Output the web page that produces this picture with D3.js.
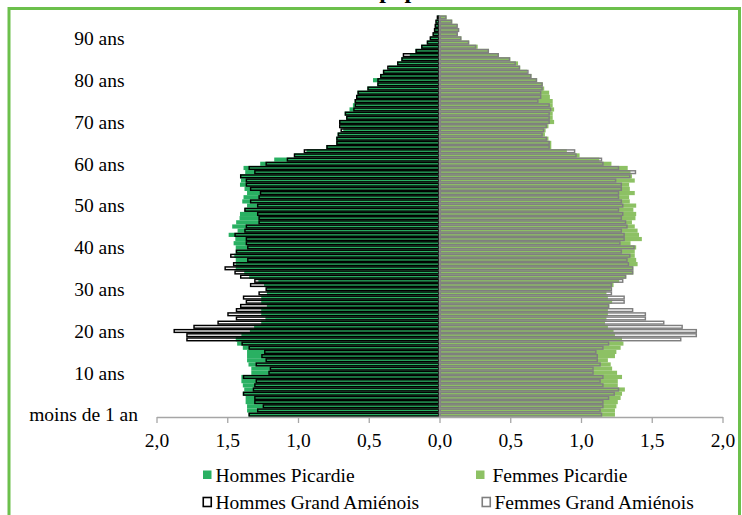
<!DOCTYPE html>
<html><head><meta charset="utf-8">
<script src="https://cdn.jsdelivr.net/npm/d3@7"></script>
<style>body{margin:0;background:#fff}svg{display:block}</style>
</head><body><svg id="c" width="742" height="515"></svg>
<script>
// ages 0..95 (one bar per year of age)
const ages = d3.range(0, 96);
const hommesPicardie = [1.35,1.36,1.36,1.37,1.37,1.39,1.38,1.39,1.40,1.40,
  1.33,1.33,1.35,1.36,1.36,1.36,1.39,1.43,1.44,1.40,
  1.34,1.31,1.26,1.23,1.26,1.26,1.22,1.26,1.26,1.22,
  1.22,1.24,1.28,1.345,1.38,1.44,1.44,1.44,1.45,1.44,
  1.44,1.455,1.443,1.49,1.427,1.465,1.437,1.413,1.41,1.378,
  1.36,1.394,1.385,1.36,1.378,1.41,1.403,1.41,1.373,1.385,
  1.267,1.168,1.027,0.94,0.80,0.73,0.73,0.72,0.68,0.70,
  0.71,0.66,0.67,0.636,0.612,0.60,0.59,0.58,0.51,0.44,
  0.47,0.42,0.40,0.36,0.30,0.27,0.21,0.17,0.13,0.09,
  0.065,0.045,0.035,0.03,0.025,0.015];
const femmesPicardie = [1.24,1.24,1.25,1.26,1.28,1.29,1.31,1.26,1.26,1.29,
  1.255,1.22,1.21,1.19,1.24,1.25,1.28,1.30,1.29,1.24,
  1.23,1.19,1.17,1.18,1.19,1.19,1.20,1.22,1.19,1.18,
  1.21,1.23,1.27,1.32,1.37,1.37,1.40,1.39,1.38,1.38,
  1.39,1.35,1.43,1.41,1.40,1.38,1.36,1.385,1.39,1.37,
  1.39,1.345,1.34,1.38,1.345,1.34,1.38,1.36,1.35,1.33,
  1.215,1.13,0.99,0.90,0.79,0.79,0.77,0.745,0.75,0.77,
  0.81,0.80,0.80,0.81,0.80,0.80,0.78,0.775,0.74,0.73,
  0.69,0.65,0.62,0.57,0.555,0.50,0.42,0.35,0.27,0.21,
  0.155,0.13,0.135,0.125,0.09,0.05];
const hommesGrandAmienois = [1.35,1.29,1.25,1.31,1.31,1.39,1.32,1.31,1.30,1.39,
  1.21,1.20,1.30,1.23,1.26,1.24,1.35,1.40,1.79,1.79,
  1.88,1.74,1.57,1.44,1.50,1.44,1.41,1.37,1.39,1.28,
  1.23,1.34,1.31,1.41,1.45,1.52,1.46,1.36,1.48,1.44,
  1.36,1.37,1.37,1.45,1.38,1.37,1.28,1.28,1.29,1.38,
  1.29,1.34,1.28,1.27,1.34,1.37,1.37,1.41,1.31,1.35,
  1.23,1.08,1.03,0.96,0.80,0.73,0.73,0.72,0.70,0.71,
  0.71,0.66,0.67,0.61,0.60,0.60,0.59,0.58,0.51,0.44,
  0.44,0.42,0.40,0.37,0.30,0.27,0.26,0.17,0.13,0.09,
  0.07,0.05,0.04,0.035,0.03,0.02];
const femmesGrandAmienois = [1.15,1.14,1.16,1.16,1.20,1.24,1.27,1.16,1.14,1.16,
  1.09,1.09,1.14,1.12,1.12,1.11,1.16,1.20,1.71,1.82,
  1.82,1.72,1.59,1.46,1.46,1.37,1.20,1.31,1.31,1.22,
  1.22,1.22,1.30,1.32,1.37,1.37,1.34,1.33,1.35,1.29,
  1.38,1.28,1.31,1.31,1.29,1.33,1.32,1.29,1.30,1.27,
  1.30,1.29,1.27,1.27,1.29,1.29,1.25,1.35,1.39,1.27,
  1.16,1.15,0.97,0.96,0.78,0.78,0.76,0.73,0.74,0.76,
  0.78,0.78,0.78,0.79,0.78,0.70,0.72,0.72,0.73,0.73,
  0.69,0.65,0.63,0.57,0.54,0.50,0.42,0.35,0.26,0.21,
  0.155,0.13,0.14,0.13,0.09,0.05];
const ageLabelAges = [0,10,20,30,40,50,60,70,80,90];
const ageLabels = ["moins de 1 an","10 ans","20 ans","30 ans","40 ans","50 ans","60 ans","70 ans","80 ans","90 ans"];
const tickValues = [-2,-1.5,-1,-0.5,0,0.5,1,1.5,2];
const tickLabels = ["2,0","1,5","1,0","0,5","0,0","0,5","1,0","1,5","2,0"];
const legendNames = ["Hommes Picardie","Femmes Picardie","Hommes Grand Amiénois","Femmes Grand Amiénois"];
const titleText = "population";

const C_HP = "#29b062", C_FP = "#8dc164", C_HA = "#000000", C_FA = "#7f7f7f";
const FONT = "Liberation Serif, Times New Roman, serif";

const svg = d3.select("#c");
// frame
svg.append("rect").attr("x",9).attr("y",8.5).attr("width",730.5).attr("height",560)
  .attr("fill","none").attr("stroke","#6cc04c").attr("stroke-width",3);
// title (mostly cut off above the picture, as in the reference)
svg.append("text").attr("x",434.5).attr("y",-2).attr("text-anchor","middle")
  .attr("font-family",FONT).attr("font-weight","bold").attr("font-size",24).text(titleText);

const x = d3.scaleLinear().domain([-2,2]).range([156.5,722.5]);
const y = d3.scaleBand().domain(ages.slice().reverse()).range([15.4,416.7]).padding(0);
const bw = y.bandwidth();

const g = svg.append("g");
// Picardie filled bars
g.selectAll(".hp").data(ages).join("rect")
  .attr("x", a => x(-hommesPicardie[a])).attr("y", a => y(a))
  .attr("width", a => x(0) - x(-hommesPicardie[a])).attr("height", bw).attr("fill", C_HP);
g.selectAll(".fp").data(ages).join("rect")
  .attr("x", x(0)).attr("y", a => y(a))
  .attr("width", a => x(femmesPicardie[a]) - x(0)).attr("height", bw).attr("fill", C_FP);
// Grand Amiénois outlined bars
const sw = 1.45;
g.selectAll(".ha").data(ages).join("rect")
  .attr("x", a => x(-hommesGrandAmienois[a]) + sw/2).attr("y", a => y(a) + sw/2)
  .attr("width", a => Math.max(0, x(0) - x(-hommesGrandAmienois[a]) - sw)).attr("height", bw - sw)
  .attr("fill","none").attr("stroke", C_HA).attr("stroke-width", sw);
g.selectAll(".fa").data(ages).join("rect")
  .attr("x", x(0) + sw/2).attr("y", a => y(a) + sw/2)
  .attr("width", a => Math.max(0, x(femmesGrandAmienois[a]) - x(0) - sw)).attr("height", bw - sw)
  .attr("fill","none").attr("stroke", C_FA).attr("stroke-width", sw);

// vertical zero line
svg.append("line").attr("x1",x(0)).attr("x2",x(0)).attr("y1",15.4).attr("y2",416.7)
  .attr("stroke","#8c8c8c").attr("stroke-width",1.5);

// x axis
const axis = d3.axisBottom(x).tickValues(tickValues)
  .tickFormat((d,i) => tickLabels[i]).tickSize(6).tickSizeOuter(0).tickPadding(10);
const ax = svg.append("g").attr("transform","translate(0,417)").call(axis);
ax.select(".domain").attr("stroke","#a6a6a6").attr("stroke-width",1.3);
ax.selectAll(".tick line").attr("stroke","#a6a6a6").attr("stroke-width",1.3);
ax.selectAll(".tick text").attr("font-family",FONT).attr("font-size",19.5).attr("fill","#000");

// age labels
svg.selectAll(".agel").data(ageLabelAges).join("text")
  .attr("x", (a,i) => i === 0 ? 138 : 124.5)
  .attr("y", a => y(a) + bw/2).attr("dy","0.35em").attr("text-anchor","end")
  .attr("font-family",FONT).attr("font-size",19.5).attr("fill","#000")
  .text((a,i) => ageLabels[i]);

// legend
const legPos = [{sx:203,tx:215.5,cy:475},{sx:476,tx:492.5,cy:475},{sx:202.5,tx:215.5,cy:502},{sx:481.5,tx:494.5,cy:502}];
const legStyle = [{fill:C_HP,stroke:"none"},{fill:C_FP,stroke:"none"},{fill:"#fff",stroke:C_HA},{fill:"#fff",stroke:C_FA}];
legendNames.forEach((n,i) => {
  const p = legPos[i], s = legStyle[i];
  if (s.stroke === "none") {
    svg.append("rect").attr("x",p.sx).attr("y",p.cy-4.5).attr("width",8.5).attr("height",8.5).attr("fill",s.fill);
  } else {
    svg.append("rect").attr("x",p.sx+0.75).attr("y",p.cy-4.5).attr("width",8).attr("height",9)
      .attr("fill",s.fill).attr("stroke",s.stroke).attr("stroke-width",1.6);
  }
  svg.append("text").attr("x",p.tx).attr("y",p.cy).attr("dy","0.35em")
    .attr("font-family",FONT).attr("font-size",19.5).attr("fill","#000").text(n);
});
</script></body></html>
